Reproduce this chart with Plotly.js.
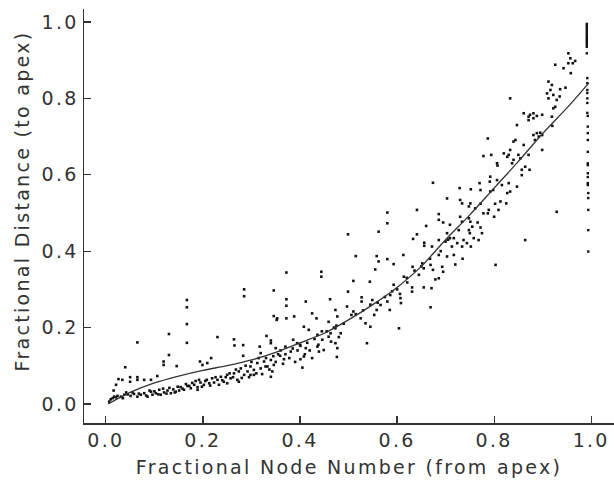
<!DOCTYPE html>
<html>
<head>
<meta charset="utf-8">
<script src="https://cdn.plot.ly/plotly-3.0.1.min.js"></script>
<style>
  html, body { margin: 0; padding: 0; background: #fff; }
  #chart { width: 614px; height: 490px; }
  #chart svg text { letter-spacing: 2.3px; }
</style>
</head>
<body>
<div id="chart"></div>
<script>
// Scatter points: fractional node number (from apex) vs fractional distance (to apex)
const nodeFrac = [
  0.007,0.01,0.014,0.017,0.021,0.024,
  0.031,0.038,0.045,0.051,0.058,0.065,0.072,0.079,0.086,0.093,0.096,0.103,0.11,0.113,0.12,0.127,0.134,0.139,0.144,0.151,0.154,0.161,0.168,0.175,0.182,0.189,0.195,0.202,0.208,0.213,0.219,0.223,0.23,0.237,0.243,0.25,0.257,0.264,0.271,0.274,0.278,0.285,0.292,0.298,0.305,0.312,0.319,0.326,0.333,0.34,0.343,0.346,
  0.189,0.192,0.25,0.274,0.298,0.305,0.329,0.34,
  0.035,0.042,0.055,0.068,0.083,0.09,0.1,0.108,0.118,0.125,0.131,0.142,0.148,0.158,0.165,0.172,0.178,0.185,0.198,0.205,0.215,0.226,0.233,0.24,0.247,0.255,0.262,0.268,0.28,0.288,0.295,0.3,0.31,0.315,0.322,0.33,0.337,0.345,0.35,0.355,
  0.016,0.021,0.026,0.034,0.04,0.05,0.05,0.065,0.065,0.079,0.093,0.106,0.065,0.119,0.119,0.13,0.13,0.146,0.167,0.167,0.167,0.167,0.194,0.199,0.209,0.217,0.23,0.264,0.265,0.283,0.283,0.285,0.285,0.317,0.331,0.34,0.346,0.352,
  0.58,0.58,0.641,0.686,0.695,0.709,0.499,0.562,0.66,0.633,0.641,0.656,0.656,0.672,0.686,0.703,0.709,0.515,0.558,0.562,0.58,0.613,0.593,0.632,0.636,0.652,0.655,0.669,0.674,0.693,0.695,0.686,0.679,0.372,0.444,0.444,0.346,0.51,0.544,0.593,0.606,0.621,0.631,0.631,0.655,0.671,0.669,0.604,0.372,0.372,0.412,0.462,0.499,0.473,0.477,0.51,0.506,0.527,0.527,0.549,0.558,0.553,0.566,0.58,0.585,0.607,0.608,0.525,0.535,0.545,0.473,0.463,0.484,0.48,0.436,0.446,0.459,0.464,0.408,0.418,0.386,0.394,0.401,0.412,0.436,0.439,0.473,0.477,0.449,0.37,0.381,0.34,0.35,0.319,0.538,0.408,0.401,0.359,0.367,0.434,0.459,0.388,0.353,0.372,0.425,0.497,0.586,0.614,0.645,
  0.476,0.555,0.803,0.72,0.735,
  0.36,0.365,0.37,0.378,0.385,0.39,0.395,0.4,0.405,0.41,0.415,0.42,0.425,0.43,0.438,0.445,0.47,0.475,0.49,0.455,0.515,0.53,0.545,0.56,0.575,0.59,0.6,0.62,0.65,0.668,0.69,0.7,0.705,
  0.953,0.957,0.962,0.967,0.953,0.958,0.943,0.926,0.912,0.919,0.916,0.909,0.922,0.929,0.912,0.936,0.947,0.935,0.922,0.926,0.919,0.92,0.833,0.861,0.871,0.881,0.874,0.888,0.871,0.881,0.899,0.847,0.881,0.888,0.895,0.899,0.892,0.884,0.899,0.844,0.84,0.787,0.861,0.833,0.83,0.82,0.827,0.85,0.854,0.871,0.873,0.84,0.837,0.864,0.857,0.857,0.778,0.794,0.806,0.807,0.674,0.792,0.791,0.806,0.77,0.772,0.792,0.798,0.816,0.83,0.847,0.833,0.827,0.729,0.752,0.703,0.73,0.734,0.751,0.748,0.772,0.761,0.778,0.789,0.787,0.802,0.813,0.809,0.8,0.825,0.929,0.864,0.686,0.73,0.734,0.727,0.748,0.751,0.755,0.748,0.75,0.766,0.772,0.775,0.768,0.758,0.737,0.744,0.734,0.717,0.724,0.713,0.752,0.686,0.703,0.717
];
const distFrac = [
  0.006,0.012,0.015,0.019,0.017,0.021,
  0.019,0.024,0.025,0.021,0.026,0.019,0.024,0.028,0.019,0.032,0.024,0.028,0.037,0.024,0.03,0.035,0.028,0.038,0.032,0.035,0.044,0.037,0.047,0.041,0.05,0.044,0.056,0.05,0.063,0.054,0.067,0.056,0.063,0.071,0.058,0.076,0.067,0.08,0.063,0.085,0.093,0.076,0.085,0.098,0.089,0.107,0.093,0.111,0.098,0.115,0.085,0.102,
  0.037,0.063,0.054,0.058,0.076,0.076,0.098,0.071,
  0.015,0.03,0.03,0.027,0.022,0.035,0.033,0.025,0.04,0.027,0.042,0.03,0.045,0.04,0.052,0.047,0.055,0.06,0.045,0.06,0.048,0.07,0.05,0.062,0.07,0.08,0.07,0.09,0.068,0.1,0.07,0.11,0.08,0.12,0.078,0.12,0.09,0.125,0.11,0.13,
  0.035,0.05,0.065,0.063,0.096,0.07,0.058,0.07,0.063,0.063,0.063,0.073,0.161,0.111,0.102,0.183,0.128,0.099,0.272,0.253,0.209,0.16,0.111,0.102,0.107,0.12,0.175,0.169,0.153,0.154,0.126,0.3,0.282,0.15,0.178,0.166,0.23,0.22,
  0.501,0.473,0.508,0.497,0.475,0.469,0.444,0.451,0.466,0.432,0.444,0.422,0.414,0.412,0.429,0.447,0.434,0.387,0.387,0.373,0.379,0.39,0.366,0.359,0.349,0.368,0.355,0.364,0.351,0.359,0.346,0.329,0.326,0.344,0.346,0.333,0.297,0.322,0.32,0.312,0.288,0.318,0.305,0.294,0.305,0.303,0.253,0.198,0.274,0.257,0.268,0.274,0.294,0.246,0.229,0.242,0.233,0.279,0.268,0.272,0.246,0.233,0.259,0.268,0.246,0.277,0.264,0.224,0.211,0.202,0.198,0.185,0.185,0.175,0.181,0.168,0.176,0.163,0.202,0.194,0.168,0.159,0.152,0.146,0.15,0.137,0.159,0.146,0.141,0.15,0.137,0.159,0.146,0.133,0.159,0.124,0.117,0.126,0.117,0.224,0.215,0.229,0.224,0.224,0.237,0.255,0.285,0.333,0.338,
  0.123,0.352,0.364,0.365,0.38,
  0.14,0.105,0.13,0.12,0.145,0.11,0.14,0.155,0.095,0.13,0.16,0.14,0.12,0.17,0.155,0.19,0.2,0.205,0.21,0.19,0.235,0.245,0.26,0.265,0.28,0.295,0.3,0.33,0.36,0.38,0.4,0.425,0.43,
  0.918,0.905,0.892,0.898,0.892,0.866,0.879,0.888,0.844,0.835,0.822,0.813,0.809,0.796,0.8,0.824,0.828,0.805,0.774,0.778,0.752,0.728,0.8,0.761,0.752,0.761,0.757,0.754,0.743,0.748,0.757,0.73,0.704,0.709,0.71,0.704,0.7,0.691,0.665,0.691,0.687,0.695,0.678,0.665,0.652,0.656,0.647,0.652,0.643,0.652,0.613,0.639,0.63,0.621,0.613,0.599,0.649,0.652,0.63,0.624,0.579,0.595,0.582,0.586,0.578,0.56,0.556,0.56,0.573,0.578,0.569,0.556,0.552,0.565,0.562,0.538,0.534,0.525,0.525,0.517,0.524,0.512,0.499,0.508,0.499,0.524,0.53,0.508,0.49,0.525,0.503,0.429,0.482,0.49,0.477,0.455,0.486,0.477,0.464,0.455,0.447,0.475,0.462,0.447,0.429,0.434,0.429,0.421,0.412,0.434,0.421,0.412,0.412,0.39,0.386,0.39
];
// Column of points at the last node
const edgeX = [0.991,0.991,0.991,0.991,0.991,0.991,0.991,0.991,0.991,0.991,0.991,0.991,0.991,0.991,0.992,0.992,0.992,0.992,0.992,0.992,0.992,0.993,0.993,0.993,0.993,0.993,0.993,0.993,0.993,0.993,0.993,0.993,0.994,0.994,0.994,0.994,0.994];
const edgeY = [0.995,0.99,0.985,0.98,0.975,0.97,0.965,0.96,0.955,0.95,0.945,0.94,0.935,0.918,0.853,0.84,0.822,0.814,0.8,0.788,0.762,0.754,0.726,0.709,0.691,0.66,0.63,0.625,0.604,0.594,0.578,0.573,0.552,0.539,0.508,0.455,0.399];
// Fitted curve
const curveX = [0.005,0.05,0.1,0.15,0.2,0.25,0.3,0.35,0.4,0.45,0.5,0.55,0.6,0.65,0.7,0.75,0.8,0.85,0.9,0.95,0.995];
const curveY = [0.0,0.03,0.055,0.073,0.088,0.1,0.115,0.135,0.16,0.185,0.22,0.26,0.305,0.36,0.43,0.495,0.565,0.635,0.708,0.775,0.84];
// Ticks
const tickVals = [0, 0.2, 0.4, 0.6, 0.8, 1.0];
const tickText = ['0.0', '0.2', '0.4', '0.6', '0.8', '1.0'];

const ink = '#333';
const fontFam = 'DejaVu Sans, sans-serif';

const traces = [
  {
    type: 'scatter', mode: 'markers', x: nodeFrac, y: distFrac,
    marker: { symbol: 'square', size: 2.6, color: '#111' },
    hoverinfo: 'x+y', showlegend: false
  },
  {
    type: 'scatter', mode: 'markers', x: edgeX, y: edgeY,
    marker: { symbol: 'square', size: 2.4, color: '#111' },
    hoverinfo: 'x+y', showlegend: false
  },
  {
    type: 'scatter', mode: 'lines', x: curveX, y: curveY,
    line: { color: '#333', width: 1.3, shape: 'spline', smoothing: 0.8 },
    hoverinfo: 'skip', showlegend: false
  }
];

const axisCommon = {
  showgrid: false, zeroline: false, showline: true,
  linecolor: '#333', linewidth: 1.5,
  ticks: 'inside', ticklen: 7, tickwidth: 1.2, tickcolor: '#333',
  tickvals: tickVals, ticktext: tickText,
  tickfont: { family: fontFam, size: 19, color: ink }
};

const layout = {
  width: 614, height: 490,
  margin: { l: 84, r: 0, t: 9, b: 67 },
  paper_bgcolor: '#fff', plot_bgcolor: '#fff',
  showlegend: false,
  xaxis: Object.assign({}, axisCommon, {
    range: [-0.045, 1.047],
    title: { text: 'Fractional Node Number (from apex)', font: { family: fontFam, size: 19, color: ink }, standoff: 10 }
  }),
  yaxis: Object.assign({}, axisCommon, {
    range: [-0.05, 1.034]
  }),
  annotations: [{
    text: 'Fractional Distance (to apex)',
    xref: 'paper', yref: 'paper', x: -0.117, y: 0.536,
    xanchor: 'center', yanchor: 'middle', textangle: -90, showarrow: false,
    font: { family: fontFam, size: 19, color: ink }
  }]
};

Plotly.newPlot('chart', traces, layout, { staticPlot: true, displayModeBar: false });
</script>
</body>
</html>
